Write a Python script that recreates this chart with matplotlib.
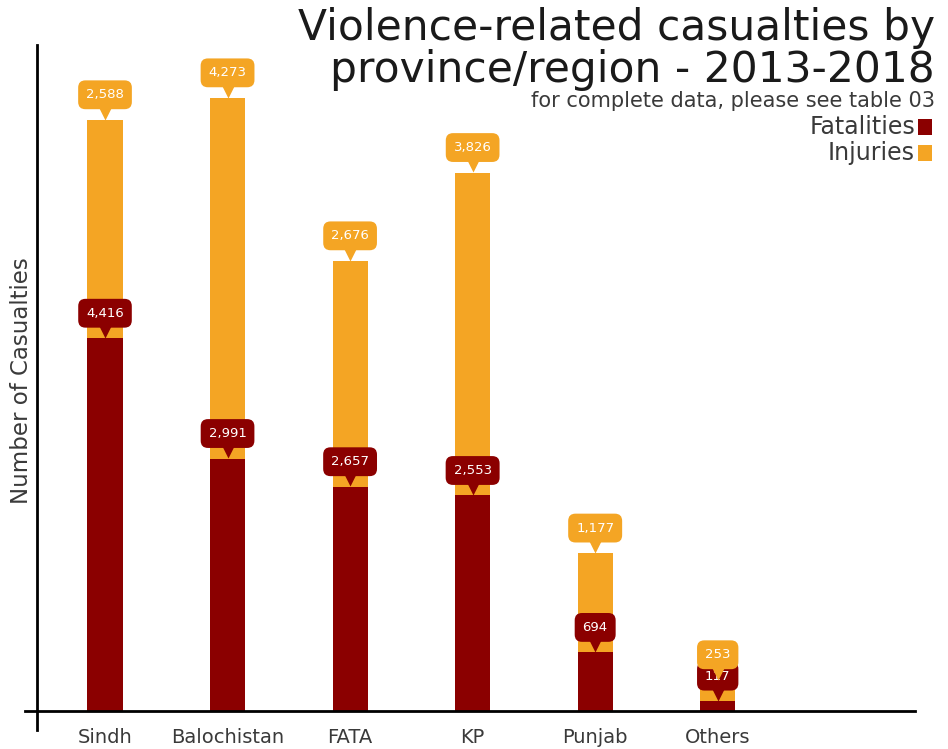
import matplotlib
matplotlib.use("Agg")
import matplotlib.pyplot as plt
from matplotlib.transforms import offset_copy
from matplotlib.patches import Rectangle

regions = ["Sindh", "Balochistan", "FATA", "KP", "Punjab", "Others"]
fatalities = [4416, 2991, 2657, 2553, 694, 117]
injuries = [2588, 4273, 2676, 3826, 1177, 253]

c_fat = "#8B0000"
c_inj = "#F4A524"
c_text = "#3a3a3a"

plt.rcParams["font.family"] = ["DejaVu Sans"]

fig = plt.figure(figsize=(9.48, 7.49), dpi=100)
ax = fig.add_axes([37 / 948, 38 / 749, (915 - 37) / 948, (711 - 45) / 749])

x = list(range(len(regions)))
w = 0.286
ax.bar(x, fatalities, width=w, color=c_fat, zorder=2)
ax.bar(x, injuries, width=w, bottom=fatalities, color=c_inj, zorder=2)

ax.set_xlim(-0.555, 6.61)
ax.set_ylim(0, 7890)


def callout(xi, top, value, color, z):
    ax.annotate(f"{value:,}", xy=(xi, top), xytext=(0, 18), textcoords="offset points",
                ha="center", va="center", color="white", fontsize=9.5, zorder=z + 1,
                bbox=dict(boxstyle="round,pad=0.6,rounding_size=0.55", fc=color, ec="none"))
    tr = offset_copy(ax.transData, fig=fig, x=0, y=4.5, units="points")
    ax.plot([xi], [top], marker="v", ms=8.5, color=color, mec="none", transform=tr,
            zorder=z, clip_on=False)


for xi, f in zip(x, fatalities):
    callout(xi, f, f, c_fat, 5)
for xi, f, i in zip(x, fatalities, injuries):
    callout(xi, f + i, i, c_inj, 8)

# axis lines crossing at the origin
for s in ax.spines.values():
    s.set_visible(False)
ax.plot([-0.014, 1], [0, 0], transform=ax.transAxes, color="black", lw=2,
        clip_on=False, zorder=3)
ax.plot([0, 0], [-0.028, 1], transform=ax.transAxes, color="black", lw=2,
        clip_on=False, zorder=3)

ax.set_yticks([])
ax.set_xticks(x)
ax.set_xticklabels(regions, fontsize=14, color=c_text)
ax.tick_params(axis="x", length=0, pad=12)
ax.set_ylabel("Number of Casualties", fontsize=16.5, color=c_text)
ax.yaxis.set_label_coords(-0.0046, (711 - 381) / 666, transform=ax.transAxes)

fig.text(935 / 948, 1 - 40 / 749, "Violence-related casualties by", ha="right", va="baseline",
         fontsize=30.5, color="#1a1a1a")
fig.text(935 / 948, 1 - 82 / 749, "province/region - 2013-2018", ha="right", va="baseline",
         fontsize=30.5, color="#1a1a1a")
fig.text(935 / 948, 1 - 101 / 749, "for complete data, please see table 03", ha="right",
         va="center", fontsize=15, color=c_text)

for label, color, yc in [("Fatalities", c_fat, 127), ("Injuries", c_inj, 153)]:
    fig.text(915 / 948, 1 - yc / 749, label, ha="right", va="center", fontsize=17, color=c_text)
    fig.patches.append(Rectangle((918 / 948, 1 - (yc + 8) / 749), 14 / 948, 16 / 749,
                                 transform=fig.transFigure, fc=color, ec="none"))

fig.savefig("out.png", dpi=100)
